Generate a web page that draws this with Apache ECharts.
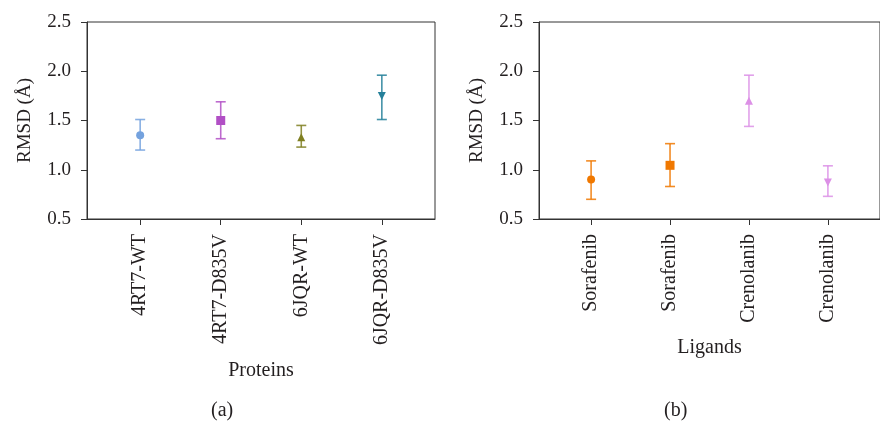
<!DOCTYPE html>
<html>
<head>
<meta charset="utf-8">
<script src="https://cdn.jsdelivr.net/npm/echarts@6/dist/echarts.min.js"></script>
<style>html,body{margin:0;padding:0;background:#fff;}#c{width:880px;height:423px;}</style>
</head>
<body>
<div id="c"></div>
<script>
// ---- data ----
const proteinCats = ['4RT7-WT', '4RT7-D835V', '6JQR-WT', '6JQR-D835V'];
const proteinMean = [1.35, 1.50, 1.33, 1.75];
const proteinLow  = [1.20, 1.315, 1.23, 1.51];
const proteinHigh = [1.51, 1.69, 1.45, 1.96];
const proteinColors = ['#74a2de', '#b14fc5', '#7f7f21', '#25809a'];
const proteinSymbols = ['circle', 'rect', 'triangle', 'triangle'];
const proteinRot = [0, 0, 0, 180];

const ligandCats = ['Sorafenib', 'Sorafenib', 'Crenolanib', 'Crenolanib'];
const ligandMean = [0.90, 1.045, 1.70, 0.87];
const ligandLow  = [0.70, 0.83, 1.44, 0.73];
const ligandHigh = [1.09, 1.265, 1.96, 1.04];
const ligandColors = ['#f07800', '#f07800', '#dc90e6', '#dc90e6'];
const ligandSymbols = ['circle', 'rect', 'triangle', 'triangle'];
const ligandRot = [0, 0, 0, 180];

const yMin = 0.5, yMax = 2.5, yStep = 0.5;
const axisNames = { xa: 'Proteins', xb: 'Ligands', y: 'RMSD (Å)' };
const captions = ['(a)', '(b)'];

// ---- chart ----
const FONT = '"Liberation Serif", "DejaVu Serif", serif';
const TXT = '#231f20';
const chart = echarts.init(document.getElementById('c'), null, { renderer: 'canvas' });

function xAxisFor(gi, cats, name, gap) {
  const idx = [0, 1, 2, 3];
  return {
    type: 'value', gridIndex: gi, min: -0.66, max: 3.66,
    name: name, nameLocation: 'middle', nameGap: gap,
    nameTextStyle: { fontFamily: FONT, fontSize: 20, color: TXT },
    axisLine: { show: true, onZero: false, lineStyle: { color: '#333', width: 1 } },
    axisTick: { show: true, customValues: idx, length: 6, lineStyle: { color: '#333' } },
    axisLabel: { show: true, customValues: idx, rotate: 90, margin: 15,
      fontFamily: FONT, fontSize: 20, color: TXT,
      formatter: v => cats[Math.round(v)] },
    splitLine: { show: false }
  };
}
function yAxisFor(gi) {
  return {
    type: 'value', gridIndex: gi, min: yMin, max: yMax, interval: yStep,
    name: axisNames.y, nameLocation: 'middle', nameGap: 52,
    nameTextStyle: { fontFamily: FONT, fontSize: 19, color: TXT },
    axisLine: { show: true, onZero: false, lineStyle: { color: '#333', width: 1 } },
    axisTick: { show: true, length: 6, lineStyle: { color: '#333' } },
    axisLabel: { margin: 16, fontFamily: FONT, fontSize: 19, color: TXT,
      formatter: v => v.toFixed(1) },
    splitLine: { show: false }
  };
}
function errSeries(gi, low, high, colors) {
  return {
    type: 'custom', xAxisIndex: gi, yAxisIndex: gi, z: 2,
    data: low.map((l, i) => [i, l, high[i]]),
    renderItem: function (params, api) {
      const x = api.value(0);
      const p1 = api.coord([x, api.value(1)]);
      const p2 = api.coord([x, api.value(2)]);
      const c = colors[params.dataIndex];
      const st = { stroke: c, lineWidth: 1.6, opacity: 0.85 };
      const hw = 5;
      return { type: 'group', children: [
        { type: 'line', shape: { x1: p1[0], y1: p1[1], x2: p2[0], y2: p2[1] }, style: st },
        { type: 'line', shape: { x1: p1[0] - hw, y1: p1[1], x2: p1[0] + hw, y2: p1[1] }, style: st },
        { type: 'line', shape: { x1: p2[0] - hw, y1: p2[1], x2: p2[0] + hw, y2: p2[1] }, style: st }
      ]};
    }
  };
}
function markSeries(gi, mean, colors, symbols, rots) {
  return {
    type: 'scatter', xAxisIndex: gi, yAxisIndex: gi, z: 3,
    data: mean.map((m, i) => ({
      value: [i, m], symbol: symbols[i], symbolRotate: rots[i],
      symbolSize: symbols[i] === 'rect' ? 9 : 8,
      itemStyle: { color: colors[i], opacity: 1 }
    }))
  };
}

chart.setOption({
  animation: false,
  backgroundColor: '#fff',
  grid: [
    { left: 87, top: 22, width: 348, height: 197, show: true, borderColor: '#333', borderWidth: 1, backgroundColor: 'transparent' },
    { left: 539, top: 22, width: 348, height: 197, show: true, borderColor: '#333', borderWidth: 1, backgroundColor: 'transparent' }
  ],
  xAxis: [xAxisFor(0, proteinCats, axisNames.xa, 142), xAxisFor(1, ligandCats, axisNames.xb, 119)],
  yAxis: [yAxisFor(0), yAxisFor(1)],
  series: [
    errSeries(0, proteinLow, proteinHigh, proteinColors),
    markSeries(0, proteinMean, proteinColors, proteinSymbols, proteinRot),
    errSeries(1, ligandLow, ligandHigh, ligandColors),
    markSeries(1, ligandMean, ligandColors, ligandSymbols, ligandRot)
  ],
  graphic: [
    { type: 'text', left: 222 - 11, top: 401, style: { text: captions[0], font: '20px ' + FONT, fill: TXT } },
    { type: 'text', left: 675 - 11, top: 401, style: { text: captions[1], font: '20px ' + FONT, fill: TXT } }
  ]
});
</script>
</body>
</html>
